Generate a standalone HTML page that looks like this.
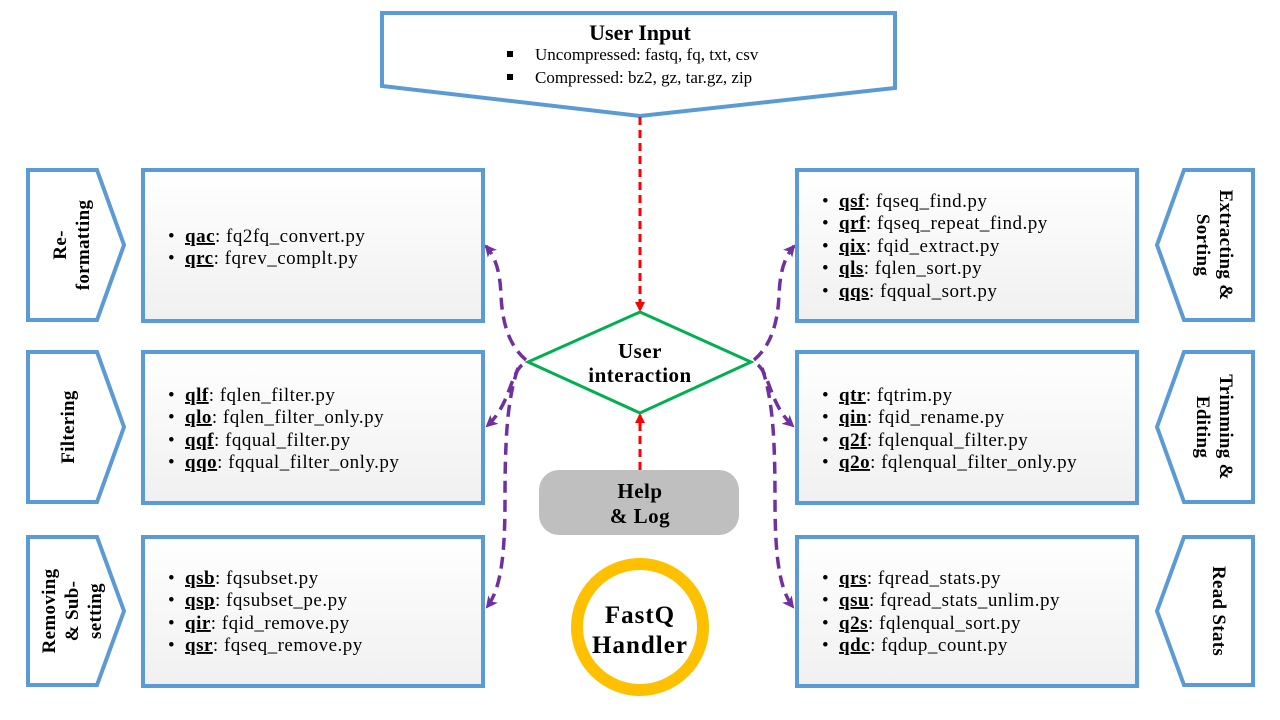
<!DOCTYPE html>
<html><head><meta charset="utf-8"><style>
html,body{margin:0;padding:0;background:#fff;}
svg{display:block;font-family:"Liberation Serif",serif;}
.t{font-size:19px;fill:#000;letter-spacing:0.5px;}
.b{font-weight:bold;text-decoration:underline;}
.h{font-size:21px;font-weight:bold;letter-spacing:0.5px;}
</style></head><body>
<svg width="1280" height="720" viewBox="0 0 1280 720" xmlns="http://www.w3.org/2000/svg">
<defs>
<linearGradient id="g" x1="0" y1="0" x2="0" y2="1"><stop offset="0" stop-color="#ffffff"/><stop offset="1" stop-color="#f0f0f0"/></linearGradient>
<marker id="ar" markerWidth="10" markerHeight="10" refX="8" refY="5" orient="auto" markerUnits="userSpaceOnUse"><path d="M0,0 L10,5 L0,10 z" fill="#ff0000"/></marker>
<marker id="ap" markerWidth="12" markerHeight="12" refX="10" refY="6" orient="auto" markerUnits="userSpaceOnUse"><path d="M0,0 L12,6 L0,12 L3,6 z" fill="#7030a0"/></marker>
</defs>

<path d="M382,13 L895,13 L895,88 L640,116 L382,86 Z" fill="#fff" stroke="#5b9bd5" stroke-width="4"/>
<text x="640" y="40" text-anchor="middle" style="font-size:22px;font-weight:bold">User Input</text>
<rect x="507" y="51" width="6" height="6"/>
<text x="535" y="60" class="t" style="font-size:17px;letter-spacing:0">Uncompressed: fastq, fq, txt, csv</text>
<rect x="507" y="74" width="6" height="6"/>
<text x="535" y="83" class="t" style="font-size:17px;letter-spacing:0">Compressed: bz2, gz, tar.gz, zip</text>

<line x1="640" y1="117" x2="640" y2="310" stroke="#ff0000" stroke-width="3" stroke-dasharray="8,5" marker-end="url(#ar)"/>
<line x1="640" y1="470" x2="640" y2="415" stroke="#ff0000" stroke-width="3" stroke-dasharray="8,5" marker-end="url(#ar)"/>

<path d="M640,312 L751,362 L640,413 L528,362 Z" fill="#fff" stroke="#00b050" stroke-width="3"/>
<text x="640" y="358" text-anchor="middle" class="h">User</text>
<text x="640" y="382" text-anchor="middle" class="h">interaction</text>

<rect x="539" y="470" width="200" height="65" rx="20" fill="#bfbfbf"/>
<text x="640" y="498" text-anchor="middle" class="h">Help</text>
<text x="640" y="523" text-anchor="middle" class="h">&amp; Log</text>

<circle cx="640" cy="627" r="63" fill="#fff" stroke="#ffc000" stroke-width="12"/>
<text x="640" y="623" text-anchor="middle" style="font-size:25px;font-weight:bold;letter-spacing:1px">FastQ</text>
<text x="640" y="653" text-anchor="middle" style="font-size:25px;font-weight:bold;letter-spacing:1px">Handler</text>

<g fill="#fff" stroke="#5b9bd5" stroke-width="4">
<path d="M28,170 L97,170 L124,245 L97,320 L28,320 Z"/>
<path d="M28,352 L97,352 L124,427 L97,502 L28,502 Z"/>
<path d="M28,537 L97,537 L124,611 L97,685 L28,685 Z"/>
<path d="M1253,170 L1184,170 L1157,245 L1184,320 L1253,320 Z"/>
<path d="M1253,352 L1184,352 L1157,427 L1184,502 L1253,502 Z"/>
<path d="M1253,537 L1184,537 L1157,611 L1184,685 L1253,685 Z"/>
</g>
<g class="h" text-anchor="middle" style="font-size:19px;letter-spacing:0.3px">
<text transform="translate(60,245) rotate(-90)" y="6">Re-</text>
<text transform="translate(60,245) rotate(-90)" y="29">formatting</text>
<text transform="translate(68,427) rotate(-90)" y="6">Filtering</text>
<text transform="translate(60,611) rotate(-90)" y="-5">Removing</text>
<text transform="translate(60,611) rotate(-90)" y="18">&amp; Sub-</text>
<text transform="translate(60,611) rotate(-90)" y="41">setting</text>
<text transform="translate(1215,245) rotate(90)" y="-5">Extracting &amp;</text>
<text transform="translate(1215,245) rotate(90)" y="18">Sorting</text>
<text transform="translate(1215,427) rotate(90)" y="-5">Trimming &amp;</text>
<text transform="translate(1215,427) rotate(90)" y="18">Editing</text>
<text transform="translate(1219,611) rotate(90)" y="6">Read Stats</text>
</g>

<g fill="url(#g)" stroke="#5b9bd5" stroke-width="4">
<rect x="143" y="170" width="340" height="151"/>
<rect x="143" y="352" width="340" height="151"/>
<rect x="143" y="537" width="340" height="149"/>
<rect x="797" y="170" width="340" height="151"/>
<rect x="797" y="352" width="340" height="151"/>
<rect x="797" y="537" width="340" height="149"/>
</g>

<g class="t">
<text x="168" y="242">•</text><text x="185" y="242"><tspan class="b">qac</tspan>: fq2fq_convert.py</text>
<text x="168" y="264">•</text><text x="185" y="264"><tspan class="b">qrc</tspan>: fqrev_complt.py</text>

<text x="168" y="401">•</text><text x="185" y="401"><tspan class="b">qlf</tspan>: fqlen_filter.py</text>
<text x="168" y="423">•</text><text x="185" y="423"><tspan class="b">qlo</tspan>: fqlen_filter_only.py</text>
<text x="168" y="446">•</text><text x="185" y="446"><tspan class="b">qqf</tspan>: fqqual_filter.py</text>
<text x="168" y="468">•</text><text x="185" y="468"><tspan class="b">qqo</tspan>: fqqual_filter_only.py</text>

<text x="168" y="584">•</text><text x="185" y="584"><tspan class="b">qsb</tspan>: fqsubset.py</text>
<text x="168" y="606">•</text><text x="185" y="606"><tspan class="b">qsp</tspan>: fqsubset_pe.py</text>
<text x="168" y="629">•</text><text x="185" y="629"><tspan class="b">qir</tspan>: fqid_remove.py</text>
<text x="168" y="651">•</text><text x="185" y="651"><tspan class="b">qsr</tspan>: fqseq_remove.py</text>

<text x="822" y="207">•</text><text x="839" y="207"><tspan class="b">qsf</tspan>: fqseq_find.py</text>
<text x="822" y="229">•</text><text x="839" y="229"><tspan class="b">qrf</tspan>: fqseq_repeat_find.py</text>
<text x="822" y="252">•</text><text x="839" y="252"><tspan class="b">qix</tspan>: fqid_extract.py</text>
<text x="822" y="274">•</text><text x="839" y="274"><tspan class="b">qls</tspan>: fqlen_sort.py</text>
<text x="822" y="297">•</text><text x="839" y="297"><tspan class="b">qqs</tspan>: fqqual_sort.py</text>

<text x="822" y="401">•</text><text x="839" y="401"><tspan class="b">qtr</tspan>: fqtrim.py</text>
<text x="822" y="423">•</text><text x="839" y="423"><tspan class="b">qin</tspan>: fqid_rename.py</text>
<text x="822" y="446">•</text><text x="839" y="446"><tspan class="b">q2f</tspan>: fqlenqual_filter.py</text>
<text x="822" y="468">•</text><text x="839" y="468"><tspan class="b">q2o</tspan>: fqlenqual_filter_only.py</text>

<text x="822" y="584">•</text><text x="839" y="584"><tspan class="b">qrs</tspan>: fqread_stats.py</text>
<text x="822" y="606">•</text><text x="839" y="606"><tspan class="b">qsu</tspan>: fqread_stats_unlim.py</text>
<text x="822" y="629">•</text><text x="839" y="629"><tspan class="b">q2s</tspan>: fqlenqual_sort.py</text>
<text x="822" y="651">•</text><text x="839" y="651"><tspan class="b">qdc</tspan>: fqdup_count.py</text>
</g>

<g fill="none" stroke="#7030a0" stroke-width="3.5" stroke-dasharray="12,7">
<path d="M526,360 C508,345 502,320 501,295 C500,272 496,258 486,246" marker-end="url(#ap)"/>
<path d="M522,365 C510,375 510,405 487,426" marker-end="url(#ap)"/>
<path d="M518,368 C507,400 505,440 505,500 C505,560 500,590 487,607" marker-end="url(#ap)"/>
<path d="M754,360 C772,345 778,320 779,295 C780,272 784,258 794,246" marker-end="url(#ap)"/>
<path d="M758,365 C770,375 770,405 793,426" marker-end="url(#ap)"/>
<path d="M762,368 C773,400 775,440 775,500 C775,560 780,590 793,607" marker-end="url(#ap)"/>
</g>
</svg>
</body></html>
